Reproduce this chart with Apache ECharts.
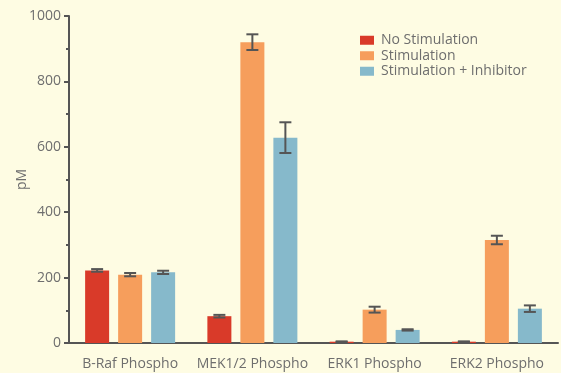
<!DOCTYPE html>
<html><head><meta charset="utf-8">
<script src="https://cdn.jsdelivr.net/npm/echarts@6/dist/echarts.min.js"></script>
<style>html,body{margin:0;padding:0;background:#fefce3;}#c{width:561px;height:373px;}</style>
</head><body><div id="c"></div>
<script>
const categories = ['B-Raf Phospho', 'MEK1/2 Phospho', 'ERK1 Phospho', 'ERK2 Phospho'];
const seriesNames = ['No Stimulation', 'Stimulation', 'Stimulation + Inhibitor'];
const noStim = [222, 82, 4, 4];
const noStimErr = [4, 4, 1, 1];
const stim = [209, 920, 102, 315];
const stimErr = [5, 24, 9, 13];
const stimInh = [216, 628, 40, 105];
const stimInhErr = [5, 47, 2, 10];
const yTicks = [0, 200, 400, 600, 800, 1000];

const FONT = 'Open Sans';
const colors = ['#d93a29', '#f69e5c', '#86b9cb'];
const values = [noStim, stim, stimInh];
const errs = [noStimErr, stimErr, stimInhErr];
const BAR_W = 24, BAR_STEP = 33;

const series = [];
values.forEach((v, i) => {
  series.push({
    name: seriesNames[i], type: 'bar', data: v, barWidth: BAR_W, barGap: '37.5%',
    itemStyle: { color: colors[i] }, z: 2
  });
});
values.forEach((v, i) => {
  series.push({
    type: 'custom', name: seriesNames[i] + ' err', z: 5, silent: true,
    data: v.map((val, j) => [j, val, errs[i][j]]),
    encode: { x: 0, y: 1 },
    renderItem: function (params, api) {
      const j = api.value(0), val = api.value(1), e = api.value(2);
      const hi = api.coord([j, val + e]);
      const lo = api.coord([j, val - e]);
      const x = hi[0] + (i - 1) * BAR_STEP;
      const cap = 6;
      const st = { stroke: '#555555', lineWidth: 2 };
      return { type: 'group', children: [
        { type: 'line', shape: { x1: x, y1: hi[1], x2: x, y2: lo[1] }, style: st },
        { type: 'line', shape: { x1: x - cap, y1: hi[1], x2: x + cap, y2: hi[1] }, style: st },
        { type: 'line', shape: { x1: x - cap, y1: lo[1], x2: x + cap, y2: lo[1] }, style: st }
      ]};
    }
  });
});

const chart = echarts.init(document.getElementById('c'));
chart.setOption({
  backgroundColor: '#fefce3',
  animation: false,
  textStyle: { fontFamily: FONT },
  grid: { left: 69, right: 3, top: 16, bottom: 30, containLabel: false },
  legend: {
    data: seriesNames, orient: 'vertical', left: 360, top: 33, padding: 0,
    itemWidth: 14, itemHeight: 9, itemGap: 1,
    icon: 'rect',
    textStyle: { color: '#6e6e6e', fontSize: 14, fontFamily: FONT, lineHeight: 14.5, padding: [0, 0, 0, 2] }
  },
  xAxis: {
    type: 'category', data: categories,
    axisLine: { lineStyle: { color: '#555555', width: 2 } },
    axisTick: { alignWithLabel: true, length: 4, lineStyle: { color: '#555555', width: 2 } },
    axisLabel: { color: '#6e6e6e', fontSize: 14, margin: 14, fontFamily: FONT, interval: 0 }
  },
  yAxis: {
    type: 'value', min: 0, max: 1000, interval: 200,
    name: 'pM', nameLocation: 'middle', nameGap: 40, nameMoveOverlap: false,
    nameTextStyle: { color: '#6e6e6e', fontSize: 14, fontFamily: FONT },
    axisLine: { show: true, lineStyle: { color: '#555555', width: 2 } },
    axisTick: { show: true, length: 5, lineStyle: { color: '#555555', width: 2 } },
    minorTick: { show: true, splitNumber: 2, length: 3, lineStyle: { color: '#555555', width: 2 } },
    splitLine: { show: false },
    axisLabel: { color: '#6e6e6e', fontSize: 14, margin: 8, fontFamily: FONT,
      formatter: v => yTicks.includes(v) ? String(v) : '' }
  },
  series: series
});
</script></body></html>
